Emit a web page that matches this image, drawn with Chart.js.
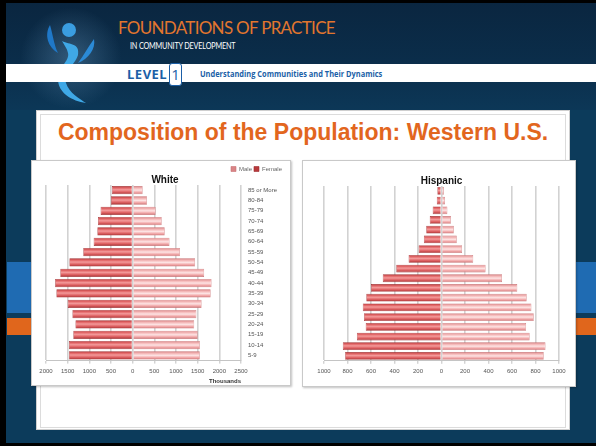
<!DOCTYPE html>
<html><head><meta charset="utf-8">
<script src="https://cdn.jsdelivr.net/npm/chart.js@4"></script>
<style>
html,body{margin:0;padding:0;width:596px;height:446px;overflow:hidden;background:#000;}
#slide{position:absolute;left:6px;top:3px;width:590px;height:440px;background:#0c3b5b;overflow:hidden;}
#hdr{position:absolute;left:0;top:0;width:590px;height:107px;background:linear-gradient(180deg,#0a2640 0%,#0b2e4b 60%,#0c3757 100%);}
#glow{position:absolute;left:10px;top:0px;width:110px;height:110px;border-radius:50%;background:radial-gradient(circle,rgba(120,170,210,0.35) 0%,rgba(120,170,210,0) 65%);}
#t1{position:absolute;left:112px;top:14px;color:#e2762e;font-family:Lato,"Liberation Sans",sans-serif;font-size:17px;letter-spacing:-0.7px;white-space:nowrap;}
#t2{position:absolute;left:124px;top:38px;color:#fff;font-family:Lato,"Liberation Sans",sans-serif;font-size:8.5px;letter-spacing:-0.2px;white-space:nowrap;transform:scaleX(0.85);transform-origin:left top;}
#band{position:absolute;left:0;top:61px;width:590px;height:18px;background:#fff;}
#lvl{position:absolute;left:121px;top:62px;color:#1b5fa7;font-family:"Open Sans","Liberation Sans",sans-serif;font-weight:bold;font-size:13px;letter-spacing:0.5px;}
#one{position:absolute;left:163px;top:60px;width:11px;height:21px;border:1.5px solid #1b5fa7;border-radius:3px;background:#fff;color:#1b5fa7;font-family:"Open Sans","Liberation Sans",sans-serif;font-size:15px;line-height:20px;text-align:center;}
#und{position:absolute;left:194px;top:65px;color:#1b5fa7;font-family:"Open Sans","Liberation Sans",sans-serif;font-weight:bold;font-size:8px;white-space:nowrap;transform:scaleX(0.93);transform-origin:left top;}
.bl{position:absolute;background:#1f6bb2;}
.or{position:absolute;background:#e0661c;}
#content{position:absolute;left:30px;top:107px;width:532px;height:318px;background:#fff;border:1px solid #cfcfcf;}
#inner{position:absolute;left:3px;top:3px;width:524px;height:312px;border:1px solid #dcdcdc;}
#title{position:absolute;left:0;top:8px;width:532px;text-align:center;color:#e2661e;font-family:"Liberation Sans",Arial,sans-serif;font-weight:bold;font-size:23px;white-space:nowrap;}
.cbox{position:absolute;background:#fff;border:1px solid #c9c9c9;box-shadow:1px 1px 2px rgba(0,0,0,0.25);}
</style></head>
<body>
<div id="slide">
  <div id="hdr"></div>
  <div id="glow"></div>
  <svg style="position:absolute;left:30px;top:8px" width="70" height="95" viewBox="0 0 70 95">
    <circle cx="33" cy="19" r="7" fill="#3a9de0"/>
    <path d="M14 14 C8 24 12 36 22 42 C18 34 17 24 14 14 Z" fill="#1f78c8"/>
    <path d="M58 28 C60 38 52 48 42 52 C48 44 52 36 58 28 Z" fill="#2b8ad6"/>
    <path d="M26 30 C34 34 44 32 42 44 C38 56 26 60 30 72 C33 82 44 88 50 92 C36 90 22 82 22 68 C22 56 34 50 32 42 C31 37 28 34 26 30 Z" fill="#3fa8e6"/>
  </svg>
  <div id="t1">FOUNDATIONS OF PRACTICE</div>
  <div id="t2">IN COMMUNITY DEVELOPMENT</div>
  <div id="band"></div>
  <div id="lvl">LEVEL</div>
  <div id="one">1</div>
  <div id="und">Understanding Communities and Their Dynamics</div>
  <div class="bl" style="left:1px;top:259px;width:24px;height:51px"></div>
  <div class="or" style="left:1px;top:315px;width:24px;height:17px"></div>
  <div class="bl" style="left:569px;top:259px;width:21px;height:51px"></div>
  <div class="or" style="left:569px;top:315px;width:21px;height:17px"></div>
  <div id="content"><div id="inner"></div>
    <div id="title">Composition of the Population: Western U.S.</div>
  </div>
  <div class="cbox" style="left:25px;top:157px;width:258px;height:224px"><canvas id="cw"></canvas></div>
  <div class="cbox" style="left:296px;top:157px;width:272px;height:225px"><canvas id="ch"></canvas></div>
</div>
<script>
// ---- data (thousands) ----
const whiteAges = ['85 or More','80-84','75-79','70-74','65-69','60-64','55-59','50-54','45-49','40-44','35-39','30-34','25-29','20-24','15-19','10-14','5-9'];
const whiteFemale = [480, 500, 740, 800, 815, 900, 1140, 1460, 1670, 1790, 1760, 1500, 1390, 1320, 1370, 1470, 1470];
const whiteMale   = [230, 330, 530, 670, 740, 850, 1090, 1440, 1650, 1820, 1800, 1590, 1470, 1420, 1500, 1550, 1550];
const whiteTicks  = [-2000,-1500,-1000,-500,0,500,1000,1500,2000,2500];

const hispAges = ['85 or More','80-84','75-79','70-74','65-69','60-64','55-59','50-54','45-49','40-44','35-39','30-34','25-29','20-24','15-19','10-14','5-9','0-4'];
const hispFemale = [35, 40, 75, 100, 130, 150, 195, 280, 385, 500, 600, 640, 670, 660, 645, 720, 840, 820];
const hispMale   = [20, 30, 50, 80, 105, 130, 175, 270, 375, 515, 645, 725, 765, 785, 720, 750, 885, 870];
const hispTicks  = [-1000,-800,-600,-400,-200,0,200,400,600,800,1000];

const BAR_PCT = 0.8;
function grad(stops, fallback){
  return function(c){
    const ch = c.chart, ys = ch.scales && ch.scales.y;
    if(!ys || !ch.chartArea) return fallback;
    const n = ch.data.labels.length;
    const y = ys.getPixelForValue(c.dataIndex);
    const h = (ys.bottom - ys.top)/n*BAR_PCT;
    const g = ch.ctx.createLinearGradient(0, y-h/2, 0, y+h/2);
    stops.forEach(s=>g.addColorStop(s[0], s[1]));
    return g;
  };
}
const femStops = [[0,'#b8393b'],[0.25,'#e46a6b'],[0.45,'#f39a9a'],[0.7,'#e06466'],[1,'#a83234']];
const maleStops = [[0,'#d98486'],[0.3,'#f7c0c0'],[0.5,'#fde3e3'],[0.75,'#f2a9aa'],[1,'#cc7577']];

function tickFont(){ return {family:'"Liberation Sans", Arial, sans-serif', size:6}; }

function makeChart(id, labels, fem, male, ticks, opts){
  return new Chart(document.getElementById(id), {
    type:'bar',
    data:{labels:labels, datasets:[
      {label:'Male', data:male, backgroundColor:grad(maleStops,'#f4b0b0'), borderColor:'#c97274', borderWidth:0.6, barPercentage:BAR_PCT, categoryPercentage:1},
      {label:'Female', data:fem.map(v=>-v), backgroundColor:grad(femStops,'#e06666'), borderColor:'#9e2e30', borderWidth:0.6, barPercentage:BAR_PCT, categoryPercentage:1}
    ]},
    options:{
      indexAxis:'y', responsive:true, maintainAspectRatio:false, animation:false,
      layout:{padding:opts.padding},
      plugins:{
        legend:{display:opts.legend, position:'top', align:'end', weight:3000,
          labels:{font:{family:'"Liberation Sans", Arial, sans-serif', size:6}, color:'#666', boxWidth:5, boxHeight:5, padding:2}},
        title:{display:true, text:opts.title, color:'#111', font:{family:'"Liberation Sans", Arial, sans-serif', size:10, weight:'bold', lineHeight:1}, padding:opts.titlePad},
        tooltip:{enabled:false}
      },
      scales:{
        x:{type:'linear', stacked:true, min:ticks[0], max:ticks[ticks.length-1],
          afterBuildTicks:(ax)=>{ax.ticks = ticks.map(v=>({value:v}));},
          ticks:{font:tickFont(), color:'#555', padding:4, maxRotation:0, autoSkip:false, callback:(v)=>Math.abs(v)},
          grid:{color:'#d2d2d2', lineWidth:1.6, tickLength:3, tickColor:'#c0c0c0', tickWidth:1},
          border:{display:true, color:'#c4c4c4', width:1},
          title:{display:opts.xTitle!=='', text:opts.xTitle, align:'end', color:'#333', font:{family:'"Liberation Sans", Arial, sans-serif', size:6, weight:'bold'}, padding:{top:-1,bottom:0}}
        },
        y:{type:'category', stacked:true, position:'right', display:opts.yLabels,
          grid:{display:false, drawTicks:false}, border:{display:false},
          ticks:{font:tickFont(), color:'#555', padding:7, autoSkip:false}
        }
      }
    }
  });
}
makeChart('cw', whiteAges, whiteFemale, whiteMale, whiteTicks, {title:'White', legend:true, yLabels:true, xTitle:'Thousands', titlePad:{top:-7,bottom:0}, padding:{left:14,right:6,top:3,bottom:0}});
makeChart('ch', hispAges, hispFemale, hispMale, hispTicks, {title:'Hispanic', legend:false, yLabels:false, xTitle:'', titlePad:{top:0,bottom:0}, padding:{left:21,right:16,top:15,bottom:7}});
</script>
</body></html>
